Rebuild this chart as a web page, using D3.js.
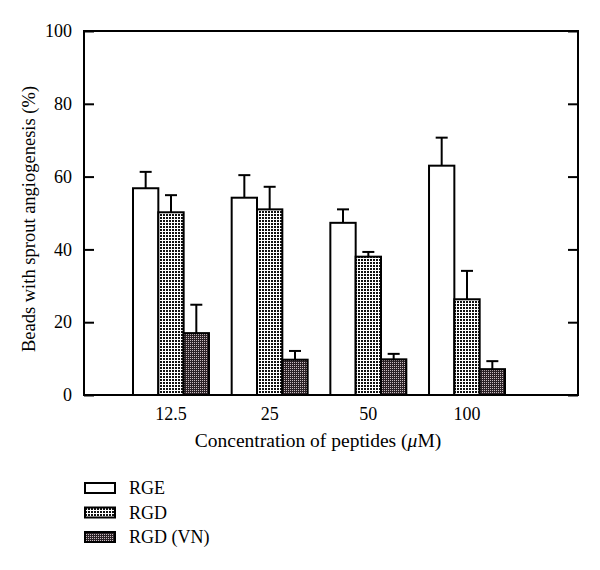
<!DOCTYPE html>
<html><head><meta charset="utf-8">
<script src="https://cdn.jsdelivr.net/npm/d3@7"></script>
<style>body{margin:0;background:#fff}svg{display:block}text{font-family:"Liberation Serif","DejaVu Serif",serif;fill:#000}</style>
</head><body><svg id="c" width="600" height="570"></svg>
<script>
const categories = ["12.5", "25", "50", "100"];
const seriesNames = ["RGE", "RGD", "RGD (VN)"];
const rgeValues = [56.8, 54.2, 47.3, 63.0];
const rgeErrors = [4.5, 6.2, 3.7, 7.7];
const rgdValues = [50.2, 51.0, 38.0, 26.3];
const rgdErrors = [4.7, 6.2, 1.3, 7.8];
const vnValues = [17.0, 9.7, 9.8, 7.1];
const vnErrors = [7.8, 2.4, 1.5, 2.2];
const yTicks = [0, 20, 40, 60, 80, 100];

const series = [
  {name: seriesNames[0], values: rgeValues, errors: rgeErrors, fill: "#fff"},
  {name: seriesNames[1], values: rgdValues, errors: rgdErrors, fill: "url(#pDots)"},
  {name: seriesNames[2], values: vnValues, errors: vnErrors, fill: "url(#pCross)"}
];

const svg = d3.select("#c");
const defs = svg.append("defs");
const p1 = defs.append("pattern").attr("id","pDots").attr("patternUnits","userSpaceOnUse").attr("width",3).attr("height",3);
p1.append("rect").attr("width",3).attr("height",3).attr("fill","#fff");
p1.append("rect").attr("x",1).attr("y",1).attr("width",2).attr("height",2).attr("fill","#111");
const p2 = defs.append("pattern").attr("id","pCross").attr("patternUnits","userSpaceOnUse").attr("width",2).attr("height",2);
p2.append("rect").attr("width",2).attr("height",2).attr("fill","#2b2226");
p2.append("rect").attr("x",0).attr("y",0).attr("width",1).attr("height",1).attr("fill","#c9bcc0");

const L = 84, R = 578, T = 31, B = 395;
const y = d3.scaleLinear().domain([0, 100]).range([B, T]);
const x = d3.scaleBand().domain(categories).range([133, 505]).paddingInner(0.23).paddingOuter(0);
const xs = d3.scaleBand().domain(seriesNames).range([0, x.bandwidth()]);

// bars
series.forEach(s => {
  const g = svg.append("g");
  categories.forEach((c, i) => {
    const bx = x(c) + xs(s.name), bw = xs.bandwidth();
    const cx = bx + bw / 2;
    const top = y(s.values[i] + s.errors[i]);
    g.append("line").attr("x1", cx).attr("x2", cx).attr("y1", y(s.values[i])).attr("y2", top)
      .attr("stroke", "#000").attr("stroke-width", 2);
    g.append("line").attr("x1", cx - 6).attr("x2", cx + 6).attr("y1", top).attr("y2", top)
      .attr("stroke", "#000").attr("stroke-width", 2);
    g.append("rect").attr("x", bx).attr("y", y(s.values[i])).attr("width", bw)
      .attr("height", y(0) - y(s.values[i])).attr("fill", s.fill).attr("stroke", "#000").attr("stroke-width", 2);
  });
});

// frame
svg.append("rect").attr("x", L).attr("y", T).attr("width", R - L).attr("height", B - T)
  .attr("fill", "none").attr("stroke", "#000").attr("stroke-width", 2);

// left axis
const ya = svg.append("g").attr("transform", `translate(${L},0)`)
  .call(d3.axisLeft(y).tickValues(yTicks).tickSizeInner(-10).tickSizeOuter(0).tickPadding(12));
ya.select(".domain").remove();
ya.selectAll(".tick line").attr("stroke-width", 2);
ya.selectAll("text").attr("font-size", 18).attr("font-family", "Liberation Serif");
// right axis ticks
const yr = svg.append("g").attr("transform", `translate(${R},0)`)
  .call(d3.axisRight(y).tickValues(yTicks).tickSizeInner(-10).tickSizeOuter(0).tickFormat(""));
yr.select(".domain").remove();
yr.selectAll(".tick line").attr("stroke-width", 2);

// bottom labels
const xa = svg.append("g").attr("transform", `translate(0,${B})`)
  .call(d3.axisBottom(x).tickSize(0).tickPadding(12));
xa.select(".domain").remove();
xa.selectAll("text").attr("font-size", 18).attr("font-family", "Liberation Serif");

svg.append("text").attr("x", 318).attr("y", 447).attr("text-anchor", "middle").attr("font-size", 19.5)
  .html('Concentration of peptides (<tspan font-style="italic">μ</tspan>M)');
svg.append("text").attr("transform", `translate(35,${(T + B) / 2 + 6}) rotate(-90)`)
  .attr("text-anchor", "middle").attr("font-size", 18.5).text("Beads with sprout angiogenesis (%)");

// legend
const lg = svg.append("g");
series.forEach((s, i) => {
  const ly = 488 + i * 24.5;
  lg.append("rect").attr("x", 85).attr("y", ly - 5).attr("width", 30).attr("height", 10)
    .attr("fill", s.fill).attr("stroke", "#000").attr("stroke-width", 2);
  lg.append("text").attr("x", 129).attr("y", ly + 6).attr("font-size", 18).text(s.name);
});
</script></body></html>
